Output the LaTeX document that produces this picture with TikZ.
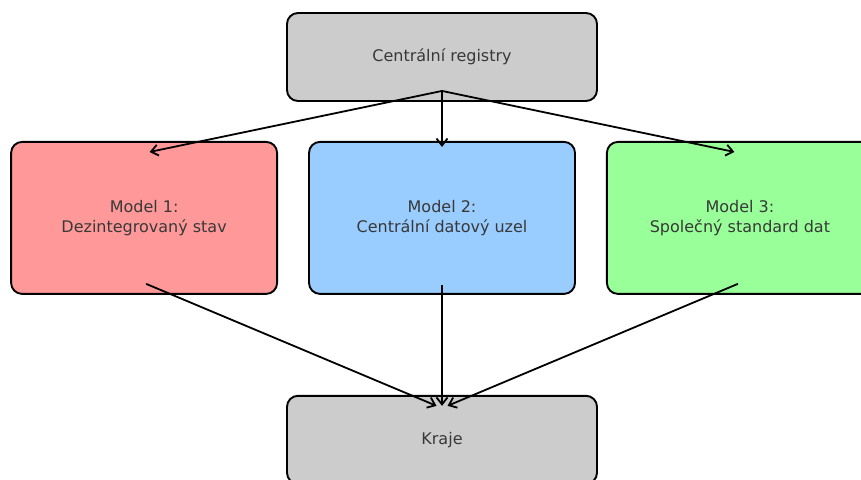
\documentclass[tikz,border=0pt]{standalone}
\usepackage{fontspec}
\setmainfont{DejaVu Sans}
\usetikzlibrary{arrows.meta, positioning}
\definecolor{colorRegistry}{HTML}{CCCCCC}
\definecolor{colorModelA}{HTML}{FF9999}
\definecolor{colorModelB}{HTML}{99CCFF}
\definecolor{colorModelC}{HTML}{99FF99}
\colorlet{colorText}{black!78}
\tikzset{
  box/.style={draw=black, line width=1.9pt, rounded corners=11pt, align=center,
    text=colorText, font=\fontsize{16}{19.5}\selectfont, inner sep=0pt},
  regbox/.style={box, fill=colorRegistry, minimum width=310pt, minimum height=88pt},
  modelbox/.style={box, minimum width=266pt, minimum height=152pt},
  link/.style={->, line width=1.8pt}
}
\begin{document}
\begin{tikzpicture}[x=1pt, y=1pt, >={Straight Barb[length=7pt,width=11pt]}, node distance=39pt and 30pt]
\useasboundingbox (0,0) rectangle (861,-479);
\clip (0,0) rectangle (861,-479);
\node[regbox] (reg) at (442,-57) {Centrální registry};
\node[modelbox, fill=colorModelB, below=of reg] (m2) {Model 2:\\Centrální datový uzel};
\node[modelbox, fill=colorModelA, left=of m2] (m1) {Model 1:\\Dezintegrovaný stav};
\node[modelbox, fill=colorModelC, right=of m2] (m3) {Model 3:\\Společný standard dat};
\node[regbox, below=100pt of m2] (kraje) {Kraje};
% arrow ends
\coordinate (regout) at ([yshift=11pt]reg.south);
\coordinate (m1in) at ([xshift=5.5pt, yshift=-11pt]m1.north);
\coordinate (m2in) at ([yshift=-6pt]m2.north);
\coordinate (m3in) at ([xshift=-5.5pt, yshift=-11pt]m3.north);
\coordinate (m1out) at ([xshift=2pt, yshift=11pt]m1.south);
\coordinate (m2out) at ([yshift=10pt]m2.south);
\coordinate (m3out) at ([xshift=-2pt, yshift=11pt]m3.south);
\coordinate (krajein1) at ([xshift=-5.5pt, yshift=-11pt]kraje.north);
\coordinate (krajein2) at ([yshift=-11pt]kraje.north);
\coordinate (krajein3) at ([xshift=5.5pt, yshift=-11pt]kraje.north);
\draw[link] (regout) -- (m1in);
\draw[link] (regout) -- (m2in);
\draw[link] (regout) -- (m3in);
\draw[link] (m1out) -- (krajein1);
\draw[link] (m2out) -- (krajein2);
\draw[link] (m3out) -- (krajein3);
\end{tikzpicture}
\end{document}
